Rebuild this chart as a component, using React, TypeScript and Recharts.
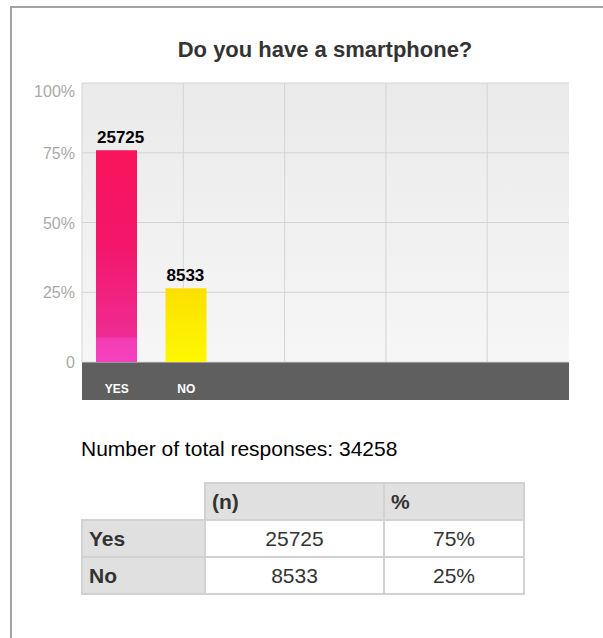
import React from "react";
import { BarChart, Bar, XAxis, YAxis, CartesianGrid, LabelList, Cell } from "recharts";

const categories = ["YES", "NO"];
const counts = [25725, 8533];
const barPercents = [75.9, 26.4];
const tableLabels = ["Yes", "No"];
const tablePercents = ["75%", "25%"];
const totalResponses = 34258;
const yTicks = [0, 25, 50, 75, 100];
const title = "Do you have a smartphone?";

const data = categories.map((name, i) => ({ name, pct: barPercents[i], n: counts[i] }));
const gradIds = ["gradYes", "gradNo"];

const FONT = "Arial, 'Liberation Sans', Helvetica, sans-serif";

const YTick = (props: any) => {
  const { x, y, payload } = props;
  const v = payload.value;
  const label = v === 0 ? "0" : `${v}%`;
  const dy = v === 100 ? 14 : 6;
  return (
    <text x={x} y={y + dy} textAnchor="end" fill="#a9a9a9" fontSize={16} fontFamily={FONT}>
      {label}
    </text>
  );
};

const XTick = (props: any) => {
  const { x, y, payload } = props;
  return (
    <text x={x} y={y + 29} textAnchor="middle" fill="#ffffff" fontSize={12} fontWeight="bold" fontFamily={FONT}>
      {payload.value}
    </text>
  );
};

const BarLabel = (props: any) => {
  const { x, y, value } = props;
  return (
    <text x={x + 1} y={y - 7} textAnchor="start" fill="#000" fontSize={17} fontWeight="bold" fontFamily={FONT}>
      {value}
    </text>
  );
};

const cellBorder = "2px solid #d2d2d2";
const tdBase: React.CSSProperties = {
  border: cellBorder,
  height: 35,
  padding: "0 6px",
  fontSize: 21,
  color: "#333",
  fontFamily: FONT,
};

export default function App() {
  return (
    <div style={{ position: "absolute", left: 0, top: 0, width: 603, height: 638, overflow: "hidden", background: "#fff", fontFamily: FONT }}>
      <div
        style={{
          position: "absolute",
          left: 10,
          top: 6,
          width: 700,
          height: 700,
          borderTop: "2px solid #a3a3a3",
          borderLeft: "2px solid #a3a3a3",
        }}
      />
      <div
        style={{
          position: "absolute",
          left: 125,
          top: 39,
          width: 400,
          textAlign: "center",
          fontSize: 22,
          lineHeight: "22px",
          fontWeight: "bold",
          color: "#333",
        }}
      >
        {title}
      </div>
      <div style={{ position: "absolute", left: 82, top: 362, width: 487, height: 38, background: "#5f5f5f" }} />
      <div style={{ position: "absolute", left: 0, top: 0 }}>
        <BarChart width={603} height={420} data={data} margin={{ top: 83, right: 34, bottom: 20, left: 22 }}>
          <defs>
            <linearGradient id="bgGrad" x1="0" y1="0" x2="0" y2="1">
              <stop offset="0%" stopColor="#eaeaea" />
              <stop offset="100%" stopColor="#f6f6f6" />
            </linearGradient>
            <linearGradient id="gradYes" x1="0" y1="0" x2="0" y2="1">
              <stop offset="0%" stopColor="#f8145c" />
              <stop offset="45%" stopColor="#f3166a" />
              <stop offset="88%" stopColor="#ef2c93" />
              <stop offset="89%" stopColor="#f23cb4" />
              <stop offset="100%" stopColor="#f442bf" />
            </linearGradient>
            <linearGradient id="gradNo" x1="0" y1="0" x2="0" y2="1">
              <stop offset="0%" stopColor="#fbe000" />
              <stop offset="100%" stopColor="#fff800" />
            </linearGradient>
          </defs>
          <CartesianGrid
            fill="url(#bgGrad)"
            stroke="#d4d4d4"
            verticalCoordinatesGenerator={({ offset }: any) => [0, 1, 2, 3, 4].map((i) => offset.left + i * 101.3)}
          />
          <XAxis
            dataKey="name"
            height={38}
            axisLine={false}
            tickLine={false}
            tickSize={0}
            interval={0}
            padding={{ left: 0, right: 348 }}
            tick={<XTick />}
          />
          <YAxis
            width={60}
            domain={[0, 100]}
            ticks={yTicks}
            axisLine={false}
            tickLine={false}
            tickSize={0}
            tickMargin={7}
            tick={<YTick />}
          />
          <Bar dataKey="pct" barSize={41} isAnimationActive={false}>
            {data.map((d, i) => (
              <Cell key={d.name} fill={`url(#${gradIds[i]})`} />
            ))}
            <LabelList dataKey="n" content={<BarLabel />} />
          </Bar>
        </BarChart>
      </div>
      <div style={{ position: "absolute", left: 81, top: 438, fontSize: 21, lineHeight: "21px", color: "#000" }}>
        Number of total responses: {totalResponses}
      </div>
      <table
        style={{
          position: "absolute",
          left: 81,
          top: 482,
          borderCollapse: "collapse",
          tableLayout: "fixed",
          width: 442,
        }}
      >
        <colgroup>
          <col style={{ width: 123 }} />
          <col style={{ width: 179 }} />
          <col style={{ width: 140 }} />
        </colgroup>
        <tbody>
          <tr>
            <td style={{ ...tdBase, border: "none", borderRight: cellBorder, borderBottom: cellBorder }} />
            <td style={{ ...tdBase, background: "#e0e0e0", fontWeight: "bold", textAlign: "left" }}>(n)</td>
            <td style={{ ...tdBase, background: "#e0e0e0", fontWeight: "bold", textAlign: "left" }}>%</td>
          </tr>
          {tableLabels.map((lab, i) => (
            <tr key={lab}>
              <td style={{ ...tdBase, background: "#e0e0e0", fontWeight: "bold", textAlign: "left" }}>{lab}</td>
              <td style={{ ...tdBase, textAlign: "center" }}>{counts[i]}</td>
              <td style={{ ...tdBase, textAlign: "center" }}>{tablePercents[i]}</td>
            </tr>
          ))}
        </tbody>
      </table>
    </div>
  );
}
